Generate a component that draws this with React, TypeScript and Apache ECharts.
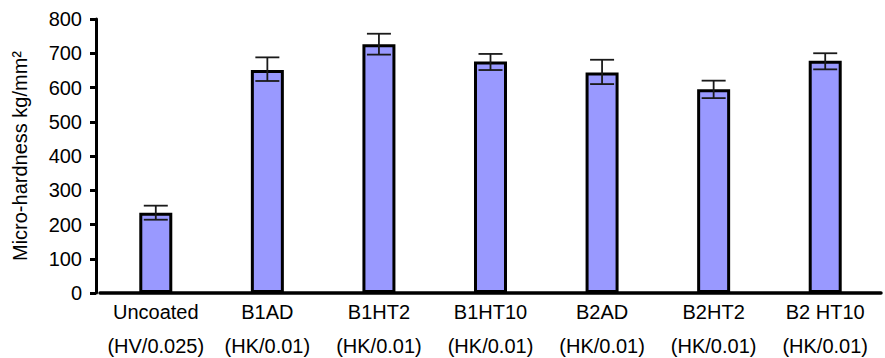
import React, { useEffect, useRef } from "react";
import * as echarts from "echarts";

const sampleNames = ["Uncoated", "B1AD", "B1HT2", "B1HT10", "B2AD", "B2HT2", "B2 HT10"];
const testMethods = ["(HV/0.025)", "(HK/0.01)", "(HK/0.01)", "(HK/0.01)", "(HK/0.01)", "(HK/0.01)", "(HK/0.01)"];
const hardness = [234, 651, 726, 676, 644, 595, 678];
const errLow = [214, 619, 696, 651, 610, 569, 653];
const errHigh = [255, 688, 757, 698, 681, 620, 700];
const yTicks = { min: 0, max: 800, interval: 100 };

const FONT = "'Liberation Sans', Arial, sans-serif";

export default function App() {
  const ref = useRef<HTMLDivElement>(null);
  useEffect(() => {
    if (!ref.current) return;
    const chart = echarts.init(ref.current, undefined, { renderer: "svg" });
    const categories = sampleNames.map((n, i) => n + "\n" + testMethods[i]);
    const errData = hardness.map((_, i) => [i, errLow[i], errHigh[i]]);
    chart.setOption({
      animation: false,
      backgroundColor: "#fff",
      grid: { left: 100, right: 4, top: 19, bottom: 65, containLabel: false, outerBoundsMode: "none" },
      xAxis: {
        type: "category",
        data: categories,
        axisLine: { show: true, lineStyle: { color: "#000", width: 3.5 } },
        axisTick: { show: false },
        axisLabel: {
          color: "#000",
          fontFamily: FONT,
          fontSize: 20,
          lineHeight: 34,
          margin: 2,
          interval: 0,
        },
      },
      yAxis: {
        type: "value",
        min: yTicks.min,
        max: yTicks.max,
        interval: yTicks.interval,
        offset: 4,
        name: "Micro-hardness kg/mm²",
        nameLocation: "middle",
        nameGap: 66,
        nameTextStyle: { color: "#000", fontFamily: FONT, fontSize: 20 },
        axisLine: { show: true, lineStyle: { color: "#000", width: 3 } },
        axisTick: { show: true, length: 6, lineStyle: { color: "#000", width: 3 } },
        axisLabel: { color: "#000", fontFamily: FONT, fontSize: 20, margin: 14 },
        splitLine: { show: false },
      },
      series: [
        {
          type: "bar",
          data: hardness,
          barWidth: 33,
          itemStyle: { color: "#9999FF", borderColor: "#000", borderWidth: 3 },
          z: 2,
        },
        {
          type: "custom",
          data: errData,
          z: 3,
          renderItem: (params: any, api: any) => {
            const x = api.value(0);
            const lo = api.coord([x, api.value(1)]);
            const hi = api.coord([x, api.value(2)]);
            const cap = 12;
            const style = { stroke: "#1a1a1a", lineWidth: 1.8 };
            return {
              type: "group",
              children: [
                { type: "line", shape: { x1: lo[0], y1: lo[1], x2: hi[0], y2: hi[1] }, style },
                { type: "line", shape: { x1: hi[0] - cap, y1: hi[1], x2: hi[0] + cap, y2: hi[1] }, style },
                { type: "line", shape: { x1: lo[0] - cap, y1: lo[1], x2: lo[0] + cap, y2: lo[1] }, style },
              ],
            };
          },
        },
      ],
    });
    return () => chart.dispose();
  }, []);
  return (
    <div
      ref={ref}
      style={{ position: "absolute", left: 0, top: 0, width: 885, height: 358 }}
    />
  );
}
